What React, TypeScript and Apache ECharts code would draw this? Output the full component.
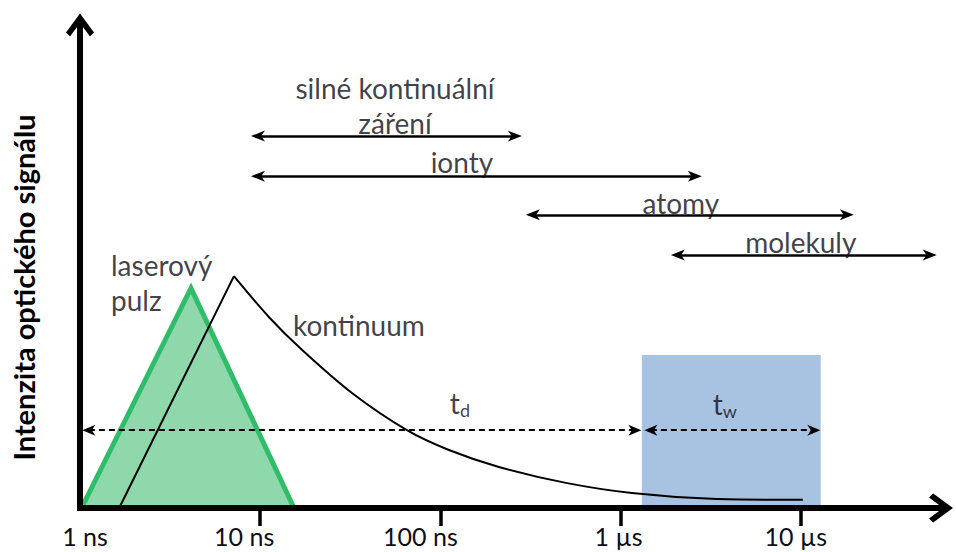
import React, { useEffect, useRef } from 'react';
import * as echarts from 'echarts';

// ---- axis ticks (time in ns, log axis) ----
const tickValues = [1, 10, 100, 1000, 10000];
const tickLabels = ['1 ns', '10 ns', '100 ns', '1 µs', '10 µs'];

// ---- laser pulse (triangle) ----
const pulseX = [1.02, 4.13, 15.4];
const pulseY = [0, 45.5, 0];

// ---- continuum emission: linear rise then decay ----
const riseX = [1.65, 7.15];
const riseY = [0, 48.0];
const decayX = [7.15, 11.2, 17.1, 32.3, 65.2, 111.5, 211, 497, 1155, 3208, 10260];
const decayY = [48.0, 39.5, 32.7, 23.8, 16.1, 12.0, 8.5, 5.2, 3.1, 1.9, 1.7];

// ---- detection window (t_w) ----
const windowX = [1312, 12900];
const windowTop = 31.7;

// ---- species lifetime arrows ----
const spanStartX = [9.72, 9.72, 326, 2078];
const spanEndX = [259, 2582, 18000, 51960];
const spanY = [77.0, 68.7, 60.7, 52.4];

// ---- delay / gate dashed arrows ----
const delayX = [1.12, 1200];
const gateX = [1472, 11810];
const timingY = 16.1;

// ---- annotations ----
const noteTexts = [
  'silné kontinuální\nzáření',
  'ionty',
  'atomy',
  'molekuly',
  'kontinuum',
  'laserový\npulz',
  '{t|t}{sub|d}',
  '{t|t}{sub|w}',
];
const noteX = [56, 131.6, 2160, 10000, 35.3, 1.486, 128.3, 3788];
const noteY = [83.4, 71.6, 63.1, 55.1, 37.9, 46.7, 21.7, 21.5];
const noteAlign = ['center', 'center', 'center', 'center', 'center', 'left', 'center', 'center'];

const yTitle = 'Intenzita optického signálu';

const FONT = 'Lato, "Open Sans", sans-serif';
const TEXT = '#0e0e18';
const chevron = 'path://M14,0 L28,19 L24,23 L14,9.5 L4,23 L0,19 Z';
const stealth = 'path://M5,0 L10,13 L5,9.5 L0,13 Z';

// tick labels are drawn slightly off their ticks in the original sketch
const labelStyles: Record<string, any> = {
  l0: { padding: [0, 0, 0, 10] },
  l1: { padding: [0, 32, 0, 0] },
  l2: { padding: [0, 40, 0, 0] },
  l3: { padding: [0, 4, 0, 0] },
  l4: { padding: [0, 10, 0, 0] },
};

export default function App() {
  const ref = useRef<HTMLDivElement>(null);
  useEffect(() => {
    document.body.style.margin = '0';
    const chart = echarts.init(ref.current!, null, { renderer: 'svg' });
    const arrowSeries = (coords: number[][][], dashed: boolean, size: number[]) => ({
      type: 'lines',
      coordinateSystem: 'cartesian2d',
      silent: true,
      z: 6,
      symbol: [stealth, stealth],
      symbolSize: [size, size],
      lineStyle: { color: '#000', width: dashed ? 2 : 2.5, type: dashed ? [6, 4] : 'solid', opacity: 1 },
      data: coords.map((c) => ({ coords: c })),
    });
    const rich: Record<string, any> = {};
    Object.keys(labelStyles).forEach((k) => {
      rich[k] = { fontSize: 25, fontFamily: FONT, color: TEXT, ...labelStyles[k] };
    });
    const option: any = {
      animation: false,
      backgroundColor: '#ffffff',
      grid: { left: 80, right: 15, top: 25, bottom: 44 },
      xAxis: {
        type: 'log',
        logBase: 10,
        min: 1,
        max: 60000,
        z: 10,
        axisLine: {
          show: true,
          symbol: ['none', chevron],
          symbolSize: [30, 24],
          lineStyle: { color: '#000', width: 6, cap: 'square' },
        },
        axisTick: {
          show: true,
          customValues: tickValues.slice(1),
          length: 18,
          lineStyle: { color: '#000', width: 3.5 },
        },
        axisLabel: {
          customValues: tickValues,
          margin: 15,
          fontSize: 25,
          fontFamily: FONT,
          color: TEXT,
          rich,
          formatter: (v: number) => {
            const i = tickValues.findIndex((t) => Math.abs(t - v) / t < 1e-6);
            return i >= 0 ? `{l${i}|${tickLabels[i]}}` : '';
          },
        },
        splitLine: { show: false },
        minorTick: { show: false },
      },
      yAxis: {
        type: 'value',
        min: 0,
        max: 100,
        z: 10,
        axisLine: {
          show: true,
          symbol: ['none', chevron],
          symbolSize: [28, 24],
          lineStyle: { color: '#000', width: 6, cap: 'square' },
        },
        axisTick: { show: false },
        axisLabel: { show: false },
        splitLine: { show: false },
        name: yTitle,
        nameLocation: 'middle',
        nameRotate: 90,
        nameGap: 42,
        nameTextStyle: {
          fontSize: 29,
          fontWeight: 'bold',
          fontFamily: FONT,
          color: '#000',
          padding: [0, 42, 0, 0],
        },
      },
      series: [
        {
          type: 'line',
          name: 'window',
          data: [],
          z: 1,
          markArea: {
            silent: true,
            itemStyle: { color: '#a8c2e1', opacity: 1 },
            data: [[{ coord: [windowX[0], 0] }, { coord: [windowX[1], windowTop] }]],
          },
        },
        {
          type: 'line',
          name: 'laserový pulz',
          z: 2,
          symbol: 'none',
          data: pulseX.map((x, i) => [x, pulseY[i]]),
          lineStyle: { color: '#30bd6a', width: 5, join: 'miter' },
          areaStyle: { color: '#8ed8ab', opacity: 1 },
        },
        {
          type: 'line',
          name: 'rise',
          z: 4,
          symbol: 'none',
          data: riseX.map((x, i) => [x, riseY[i]]),
          lineStyle: { color: '#000', width: 2 },
        },
        {
          type: 'line',
          name: 'kontinuum',
          z: 4,
          symbol: 'none',
          smooth: 0.3,
          data: decayX.map((x, i) => [x, decayY[i]]),
          lineStyle: { color: '#000', width: 2 },
        },
        arrowSeries(
          spanStartX.map((x, i) => [[x, spanY[i]], [spanEndX[i], spanY[i]]]),
          false,
          [11, 14]
        ),
        arrowSeries(
          [
            [[delayX[0], timingY], [delayX[1], timingY]],
            [[gateX[0], timingY], [gateX[1], timingY]],
          ],
          true,
          [11, 13]
        ),
        {
          type: 'scatter',
          name: 'notes',
          z: 8,
          silent: true,
          symbolSize: 0,
          data: noteX.map((x, i) => ({
            value: [x, noteY[i]],
            label: { align: noteAlign[i] },
          })),
          label: {
            show: true,
            position: 'inside',
            fontSize: 28,
            lineHeight: 35,
            fontFamily: FONT,
            color: TEXT,
            formatter: (p: any) => noteTexts[p.dataIndex],
            rich: {
              t: { fontSize: 28, fontFamily: FONT, color: TEXT, lineHeight: 32 },
              sub: { fontSize: 18, fontFamily: FONT, color: TEXT, verticalAlign: 'bottom', lineHeight: 19 },
            },
          },
        },
      ],
    };
    chart.setOption(option);
    return () => chart.dispose();
  }, []);
  return <div ref={ref} style={{ width: 956, height: 552, position: 'absolute', left: 0, top: 0 }} />;
}
